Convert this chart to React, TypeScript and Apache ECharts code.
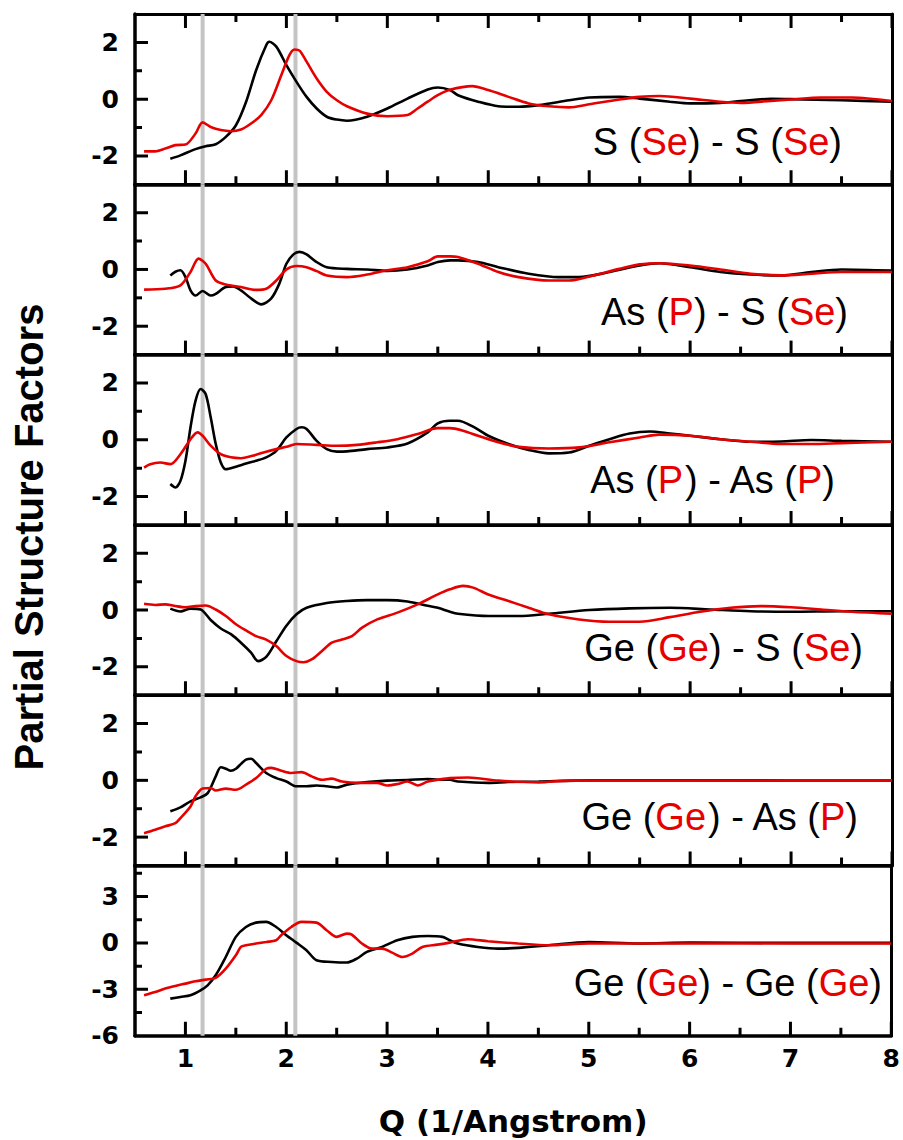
import React, { useEffect, useRef } from "react";
import * as echarts from "echarts";

// ---- axis ticks ----
const X_MAJOR = [1, 2, 3, 4, 5, 6, 7, 8];
const X_MINOR = [1.5, 2.5, 3.5, 4.5, 5.5, 6.5, 7.5];
const Y_MAJOR_STD = [-2, 0, 2];
const Y_MINOR_STD = [-1, 1];
const Y_MAJOR_GG = [-6, -3, 0, 3];
const Y_MINOR_GG = [-4.5, -1.5, 1.5, 4.5];
const GUIDE_Q = [1.17, 2.09];

// ---- panel 1 : S(Se) - S(Se) ----
const SS_K_Q = [0.85,0.95,1.1,1.2,1.3,1.4,1.5,1.6,1.7,1.8,1.83,1.9,2.0,2.1,2.2,2.3,2.4,2.5,2.6,2.8,3.0,3.2,3.4,3.5,3.62,3.7,3.9,4.1,4.3,4.5,4.8,5.0,5.3,5.5,5.8,6.0,6.3,6.5,6.8,7.0,7.5,8.0];
const SS_K_S = [-2.1,-1.98,-1.76,-1.66,-1.59,-1.33,-0.92,-0.1,1.02,1.9,2.02,1.85,1.2,0.61,0.08,-0.33,-0.62,-0.72,-0.76,-0.62,-0.33,0.02,0.34,0.41,0.32,0.14,-0.09,-0.25,-0.27,-0.21,-0.04,0.06,0.08,0.02,-0.09,-0.15,-0.13,-0.07,0.01,0,-0.04,-0.09];
const SS_R_Q = [0.59,0.7,0.8,0.9,1.0,1.1,1.17,1.25,1.35,1.45,1.55,1.65,1.75,1.85,1.95,2.03,2.08,2.13,2.2,2.3,2.4,2.5,2.6,2.8,3.0,3.2,3.3,3.4,3.5,3.62,3.84,4.0,4.2,4.4,4.6,4.8,5.0,5.3,5.5,5.7,6.0,6.3,6.5,6.8,7.0,7.3,7.6,8.0];
const SS_R_S = [-1.84,-1.84,-1.74,-1.62,-1.6,-1.21,-0.82,-0.98,-1.09,-1.13,-1.07,-0.86,-0.56,-0.04,0.85,1.55,1.75,1.71,1.32,0.73,0.26,-0.04,-0.25,-0.51,-0.6,-0.56,-0.33,-0.09,0.14,0.33,0.46,0.32,0.08,-0.15,-0.25,-0.29,-0.18,-0.01,0.08,0.11,0.02,-0.09,-0.13,-0.06,-0.01,0.06,0.06,-0.07];

// ---- panel 2 : As(P) - S(Se) ----
const AsS_K_Q = [0.85,0.9,0.95,1.0,1.05,1.1,1.17,1.25,1.3,1.4,1.47,1.55,1.65,1.75,1.85,1.93,2.0,2.07,2.13,2.2,2.3,2.4,2.6,2.8,3.0,3.2,3.4,3.5,3.62,3.7,3.9,4.1,4.4,4.7,4.9,5.2,5.5,5.7,6.0,6.3,6.6,6.9,7.2,7.5,8.0];
const AsS_K_S = [-0.21,-0.08,-0.03,-0.27,-0.74,-0.92,-0.76,-0.92,-0.86,-0.62,-0.6,-0.74,-1.02,-1.23,-1.02,-0.5,0.2,0.53,0.62,0.53,0.26,0.08,0.02,0,-0.05,0,0.14,0.26,0.32,0.32,0.26,0.08,-0.15,-0.27,-0.27,-0.09,0.14,0.22,0.08,-0.09,-0.18,-0.21,-0.09,0,-0.04];
const AsS_R_Q = [0.59,0.8,0.95,1.05,1.13,1.2,1.3,1.4,1.55,1.7,1.8,1.9,2.0,2.1,2.2,2.3,2.4,2.6,2.8,3.0,3.2,3.4,3.5,3.62,3.7,3.9,4.1,4.3,4.6,4.8,5.0,5.3,5.5,5.7,6.0,6.3,6.6,6.9,7.2,7.5,8.0];
const AsS_R_S = [-0.71,-0.68,-0.56,-0.09,0.38,0.2,-0.39,-0.53,-0.62,-0.72,-0.68,-0.39,0,0.12,0.08,-0.06,-0.21,-0.27,-0.18,-0.03,0.08,0.29,0.46,0.46,0.44,0.2,-0.09,-0.27,-0.39,-0.39,-0.25,0.02,0.18,0.22,0.14,0,-0.15,-0.21,-0.15,-0.09,-0.09];

// ---- panel 3 : As(P) - As(P) ----
const AsAs_K_Q = [0.85,0.9,0.95,1.0,1.05,1.1,1.15,1.2,1.25,1.3,1.35,1.4,1.5,1.6,1.7,1.8,1.9,2.0,2.1,2.15,2.2,2.3,2.4,2.5,2.6,2.8,3.0,3.2,3.4,3.5,3.62,3.7,3.85,4.0,4.2,4.4,4.6,4.8,5.0,5.2,5.4,5.6,5.8,6.0,6.3,6.6,6.9,7.2,7.5,8.0];
const AsAs_K_S = [-1.56,-1.68,-1.45,-0.74,0.44,1.38,1.79,1.61,0.79,-0.15,-0.8,-1.04,-0.95,-0.84,-0.74,-0.62,-0.39,0.08,0.38,0.44,0.38,-0.04,-0.33,-0.42,-0.41,-0.33,-0.27,-0.13,0.26,0.58,0.67,0.67,0.46,0.14,-0.15,-0.36,-0.48,-0.45,-0.21,0.02,0.22,0.29,0.22,0.14,0.02,-0.07,-0.06,-0.01,-0.04,-0.07];
const AsAs_R_Q = [0.59,0.65,0.75,0.85,0.95,1.05,1.12,1.17,1.25,1.35,1.45,1.55,1.7,1.8,1.9,2.0,2.1,2.3,2.5,2.7,2.9,3.1,3.3,3.5,3.62,3.75,3.9,4.1,4.3,4.6,4.9,5.2,5.5,5.7,6.0,6.3,6.6,6.9,7.2,7.5,8.0];
const AsAs_R_S = [-0.98,-0.86,-0.8,-0.86,-0.51,0.02,0.26,0.14,-0.21,-0.51,-0.62,-0.65,-0.53,-0.42,-0.33,-0.25,-0.15,-0.18,-0.21,-0.18,-0.09,0.02,0.2,0.41,0.41,0.32,0.14,-0.09,-0.25,-0.31,-0.27,-0.09,0.08,0.18,0.14,0.02,-0.07,-0.15,-0.15,-0.12,-0.07];

// ---- panel 4 : Ge(Ge) - S(Se) ----
const GeS_K_Q = [0.85,0.95,1.05,1.15,1.25,1.35,1.45,1.55,1.65,1.72,1.8,1.9,2.0,2.1,2.2,2.4,2.6,2.8,3.0,3.2,3.4,3.5,3.62,3.7,4.0,4.3,4.6,5.0,5.4,5.8,6.2,6.6,7.0,7.5,8.0];
const GeS_K_S = [0.05,-0.05,0.05,0.02,-0.35,-0.65,-0.85,-1.15,-1.5,-1.8,-1.65,-1.1,-0.55,-0.15,0.08,0.25,0.32,0.35,0.35,0.3,0.15,0.08,-0.06,-0.13,-0.21,-0.21,-0.13,0,0.06,0.08,0.02,-0.04,-0.06,-0.04,-0.04];
const GeS_R_Q = [0.59,0.7,0.8,0.9,1.0,1.1,1.2,1.3,1.4,1.5,1.6,1.7,1.8,1.9,2.0,2.1,2.17,2.25,2.35,2.45,2.55,2.65,2.75,2.9,3.1,3.3,3.5,3.62,3.75,3.85,4.0,4.2,4.4,4.6,4.9,5.2,5.5,5.8,6.1,6.4,6.7,7.0,7.3,7.6,8.0];
const GeS_R_S = [0.22,0.18,0.2,0.14,0.1,0.14,0.16,0.02,-0.21,-0.5,-0.72,-0.92,-1.04,-1.27,-1.62,-1.8,-1.84,-1.74,-1.45,-1.15,-1.04,-0.92,-0.62,-0.33,-0.09,0.2,0.55,0.73,0.85,0.79,0.55,0.32,0.08,-0.15,-0.33,-0.41,-0.41,-0.25,-0.06,0.08,0.14,0.1,0.02,-0.06,-0.13];

// ---- panel 5 : Ge(Ge) - As(P) ----
const GeAs_K_Q = [0.85,0.95,1.05,1.15,1.22,1.3,1.35,1.4,1.45,1.5,1.55,1.6,1.65,1.7,1.8,1.9,2.0,2.1,2.2,2.3,2.4,2.5,2.6,2.8,3.0,3.2,3.4,3.5,3.62,3.7,4.0,4.2,4.5,5.0,6.0,7.0,8.0];
const GeAs_K_S = [-1.09,-0.95,-0.74,-0.6,-0.45,0.14,0.46,0.41,0.34,0.41,0.58,0.73,0.76,0.61,0.26,0.08,-0.04,-0.21,-0.21,-0.18,-0.21,-0.25,-0.15,-0.06,-0.01,0.01,0.05,0.02,0.02,-0.04,-0.09,-0.06,-0.04,0,0,0,0];
const GeAs_R_Q = [0.59,0.7,0.8,0.9,0.95,1.05,1.1,1.17,1.25,1.3,1.4,1.5,1.6,1.7,1.8,1.85,1.95,2.05,2.15,2.25,2.35,2.45,2.55,2.7,2.9,3.0,3.1,3.2,3.3,3.4,3.5,3.62,3.8,4.1,4.5,4.8,5.5,6.0,7.0,8.0];
const GeAs_R_S = [-1.86,-1.74,-1.62,-1.51,-1.33,-0.92,-0.56,-0.29,-0.27,-0.36,-0.29,-0.33,-0.15,0.08,0.41,0.44,0.34,0.26,0.29,0.14,0.02,0.06,-0.04,-0.09,-0.09,-0.18,-0.13,-0.04,-0.18,-0.04,0.02,0.08,0.1,-0.01,-0.07,-0.01,-0.01,-0.01,0,0];

// ---- panel 6 : Ge(Ge) - Ge(Ge) ----
const GeGe_K_Q = [0.85,0.95,1.05,1.15,1.22,1.3,1.4,1.5,1.6,1.7,1.8,1.9,2.0,2.1,2.2,2.3,2.45,2.6,2.7,2.8,2.95,3.1,3.25,3.4,3.55,3.62,3.7,3.9,4.1,4.3,4.6,5.0,5.5,6.0,7.0,8.0];
const GeGe_K_S = [-3.6,-3.49,-3.38,-3.06,-2.74,-2.09,-0.91,0.39,1.03,1.31,1.36,1.03,0.5,0.02,-0.47,-1.12,-1.23,-1.27,-1.01,-0.58,-0.26,0.17,0.39,0.45,0.39,0.17,-0.04,-0.26,-0.37,-0.32,-0.15,0.06,-0.04,0.02,0,0];
const GeGe_R_Q = [0.59,0.7,0.8,0.9,1.0,1.1,1.2,1.3,1.4,1.5,1.55,1.6,1.7,1.8,1.9,1.95,2.05,2.15,2.3,2.4,2.5,2.6,2.65,2.75,2.85,2.95,3.05,3.15,3.25,3.35,3.5,3.62,3.8,4.0,4.3,4.6,5.0,6.0,7.0,8.0];
const GeGe_R_S = [-3.38,-3.17,-2.95,-2.78,-2.63,-2.48,-2.37,-2.26,-1.66,-0.8,-0.26,-0.15,-0.04,0.06,0.17,0.5,1.03,1.36,1.31,0.82,0.39,0.6,0.54,-0.04,-0.37,-0.37,-0.63,-0.91,-0.69,-0.26,-0.11,0.02,0.24,0.11,-0.04,-0.15,-0.04,-0.04,-0.04,-0.04];

// ---- panel labels (black part, red part alternating) ----
const LABELS = [
  "{k|S (}{r|Se}{k|) - S (}{r|Se}{k|)}",
  "{k|As (}{r|P}{k|) - S (}{r|Se}{k|)}",
  "{k|As (}{r|P}{k|) - As (}{r|P}{k|)}",
  "{k|Ge (}{r|Ge}{k|) - S (}{r|Se}{k|)}",
  "{k|Ge (}{r|Ge}{k|) - As (}{r|P}{k|)}",
  "{k|Ge (}{r|Ge}{k|) - Ge (}{r|Ge}{k|)}",
];
const LABEL_POS = [
  [842, 142], [848, 312], [835, 480], [863, 648], [858, 817], [882, 983],
];

const PANEL_DATA = [
  [SS_K_Q, SS_K_S, SS_R_Q, SS_R_S],
  [AsS_K_Q, AsS_K_S, AsS_R_Q, AsS_R_S],
  [AsAs_K_Q, AsAs_K_S, AsAs_R_Q, AsAs_R_S],
  [GeS_K_Q, GeS_K_S, GeS_R_Q, GeS_R_S],
  [GeAs_K_Q, GeAs_K_S, GeAs_R_Q, GeAs_R_S],
  [GeGe_K_Q, GeGe_K_S, GeGe_R_Q, GeGe_R_S],
];

const BLACK = "#000000";
const RED = "#e60000";
const GREY = "#c4c4c4";
const GRID_LEFT = 135;
const GRID_W = 757;
const GRID_TOP = 14;
const GRID_H = 170.3;
const Q_MIN = 0.5;
const Q_MAX = 8;
// tick lengths in pixels
const X_MAJOR_LEN = 14;
const X_MINOR_LEN = 8;
const Y_MAJOR_LEN = 13;
const Y_MINOR_LEN = 7;

const zip = (q: number[], s: number[]) => q.map((v, i) => [v, s[i]]);

function buildOption() {
  const grids: any[] = [];
  const xAxes: any[] = [];
  const yAxes: any[] = [];
  const series: any[] = [];
  const tickFont = { fontFamily: "DejaVu Sans", fontWeight: "bold", fontSize: 25, color: "#000" };
  const qPerPx = (Q_MAX - Q_MIN) / GRID_W;

  for (let i = 0; i < 6; i++) {
    const last = i === 5;
    const xi = xAxes.length;
    const yi = yAxes.length;
    const yMin = last ? -6 : -3;
    const yMax = last ? 5 : 3;
    const yMajor = last ? Y_MAJOR_GG : Y_MAJOR_STD;
    const yMinor = last ? Y_MINOR_GG : Y_MINOR_STD;
    const sPerPx = (yMax - yMin) / GRID_H;

    grids.push({ left: GRID_LEFT, width: GRID_W, top: GRID_TOP + i * GRID_H, height: GRID_H });

    const bottom: any = {
      type: "value", gridIndex: i, min: Q_MIN, max: Q_MAX, position: "bottom",
      axisLine: { show: true, onZero: false, lineStyle: { color: BLACK, width: 3.5 } },
      axisTick: { show: false },
      axisLabel: { show: last, customValues: X_MAJOR, margin: 10, ...tickFont },
      splitLine: { show: false },
    };
    if (last) {
      bottom.name = "Q (1/Angstrom)";
      bottom.nameLocation = "middle";
      bottom.nameGap = 70;
      bottom.nameTextStyle = { fontFamily: "DejaVu Sans", fontWeight: "bold", fontSize: 31, color: "#000" };
    }
    xAxes.push(bottom);
    xAxes.push({
      type: "value", gridIndex: i, min: Q_MIN, max: Q_MAX, position: "top",
      axisLine: { show: true, onZero: false, lineStyle: { color: BLACK, width: 3 } },
      axisTick: { show: false }, axisLabel: { show: false }, splitLine: { show: false },
    });
    yAxes.push({
      type: "value", gridIndex: i, min: yMin, max: yMax, position: "left",
      axisLine: { show: true, onZero: false, lineStyle: { color: BLACK, width: 3.5 } },
      axisTick: { show: false },
      axisLabel: { show: true, customValues: yMajor, margin: 16, ...tickFont },
      splitLine: { show: false },
    });
    yAxes.push({
      type: "value", gridIndex: i, min: yMin, max: yMax, position: "right",
      axisLine: { show: true, onZero: false, lineStyle: { color: BLACK, width: 3 } },
      axisTick: { show: false }, axisLabel: { show: false }, splitLine: { show: false },
    });

    // grey guide lines at fixed Q, spanning the panel's y range
    GUIDE_Q.forEach((q) => {
      series.push({
        type: "line", xAxisIndex: xi, yAxisIndex: yi, data: [[q, yMin], [q, yMax]],
        showSymbol: false, silent: true, lineStyle: { color: GREY, width: 4 },
      });
    });

    // inward tick marks, placed through the axes' scales
    const tick = (a: number[], b: number[]) =>
      series.push({
        type: "line", xAxisIndex: xi, yAxisIndex: yi, data: [a, b],
        showSymbol: false, silent: true, lineStyle: { color: BLACK, width: 3, cap: "butt" },
      });
    X_MAJOR.forEach((q) => tick([q, yMin], [q, yMin + X_MAJOR_LEN * sPerPx]));
    X_MINOR.forEach((q) => tick([q, yMin], [q, yMin + X_MINOR_LEN * sPerPx]));
    if (i === 0) {
      X_MAJOR.forEach((q) => tick([q, yMax], [q, yMax - X_MAJOR_LEN * sPerPx]));
      X_MINOR.forEach((q) => tick([q, yMax], [q, yMax - X_MINOR_LEN * sPerPx]));
    }
    yMajor.filter((v) => v > yMin && v < yMax).forEach((v) => tick([Q_MIN, v], [Q_MIN + Y_MAJOR_LEN * qPerPx, v]));
    yMinor.filter((v) => v > yMin && v < yMax).forEach((v) => tick([Q_MIN, v], [Q_MIN + Y_MINOR_LEN * qPerPx, v]));

    const [kq, ks, rq, rs] = PANEL_DATA[i];
    series.push({
      type: "line", xAxisIndex: xi, yAxisIndex: yi, data: zip(kq, ks),
      showSymbol: false, smooth: 0.3, lineStyle: { color: BLACK, width: 2.6 },
    });
    series.push({
      type: "line", xAxisIndex: xi, yAxisIndex: yi, data: zip(rq, rs),
      showSymbol: false, smooth: 0.3, lineStyle: { color: RED, width: 2.6 },
    });
  }

  const graphic: any[] = LABELS.map((t, i) => ({
    type: "text",
    x: LABEL_POS[i][0],
    y: LABEL_POS[i][1],
    style: {
      text: t,
      align: "right",
      verticalAlign: "middle",
      rich: {
        k: { fill: "#000", fontFamily: "Liberation Sans", fontSize: 38 },
        r: { fill: RED, fontFamily: "Liberation Sans", fontSize: 38 },
      },
    },
  }));
  graphic.push({
    type: "text",
    x: 29,
    y: 537,
    rotation: Math.PI / 2,
    style: {
      text: "Partial Structure Factors",
      fill: "#000",
      fontFamily: "Liberation Sans",
      fontWeight: "bold",
      fontSize: 40,
      align: "center",
      verticalAlign: "middle",
    },
  });

  return {
    animation: false,
    backgroundColor: "#ffffff",
    grid: grids,
    xAxis: xAxes,
    yAxis: yAxes,
    series,
    graphic,
  };
}

export default function App() {
  const ref = useRef<HTMLDivElement>(null);
  useEffect(() => {
    if (!ref.current) return;
    const chart = echarts.init(ref.current, undefined, { renderer: "svg" });
    chart.setOption(buildOption() as any);
    return () => chart.dispose();
  }, []);
  return <div ref={ref} style={{ position: "absolute", left: 0, top: 0, width: 903, height: 1140 }} />;
}
